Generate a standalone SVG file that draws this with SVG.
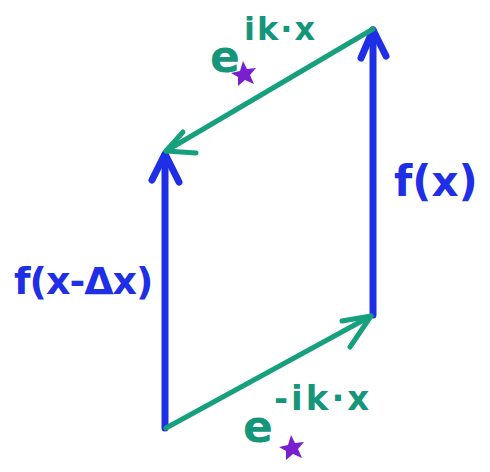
<svg xmlns="http://www.w3.org/2000/svg" width="490" height="472" viewBox="0 0 490 472">
<style>
.blue{stroke:#1f2fe6;stroke-width:7;fill:none;stroke-linecap:round;stroke-linejoin:round}
.green{stroke:#16a07e;stroke-width:5;fill:none;stroke-linecap:round;stroke-linejoin:round}
.tb{font-family:"DejaVu Sans",sans-serif;font-weight:bold;fill:#1f2fe6}
.tg{font-family:"DejaVu Sans",sans-serif;font-weight:bold;fill:#15967a}
.star{fill:#7a1fd0}
</style>
<rect width="490" height="472" fill="#ffffff"/>
<g id="connectors">
<path class="blue" d="M165 428 L165 155"/>
<path class="blue" d="M152 180 L165 154 L179 182"/>
<path class="blue" d="M373 315 L373 30"/>
<path class="blue" d="M361 58 L373 30 L386 56"/>
<path class="green" d="M373 29 L166 151"/>
<path class="green" d="M183 132 L166 151 L196 153"/>
<path class="green" d="M166 428 L371 316"/>
<path class="green" d="M342 321 L371 316 L350 347"/>
</g>
<g id="label-top">
<text class="tg" x="210" y="72" font-size="44">e</text>
<text class="tg" x="244" y="40" font-size="32" letter-spacing="2">ik·x</text>
<path class="star" d="M243 61 L247 69 L256 68 L250 75 L254 84 L245 80 L238 86 L238 77 L231 73 L240 71 Z"/>
</g>
<g id="label-fx">
<text class="tb" x="394" y="196" font-size="42">f(x)</text>
</g>
<g id="label-fxdx">
<text class="tb" x="14" y="294" font-size="38" letter-spacing="-1">f(x-Δx)</text>
</g>
<g id="label-bottom">
<text class="tg" x="243" y="442" font-size="44">e</text>
<text class="tg" x="274" y="410" font-size="34" letter-spacing="3">-ik·x</text>
<path class="star" d="M291 435 L295 443 L304 442 L298 449 L302 458 L293 454 L286 460 L286 451 L279 447 L288 445 Z"/>
</g>
</svg>
